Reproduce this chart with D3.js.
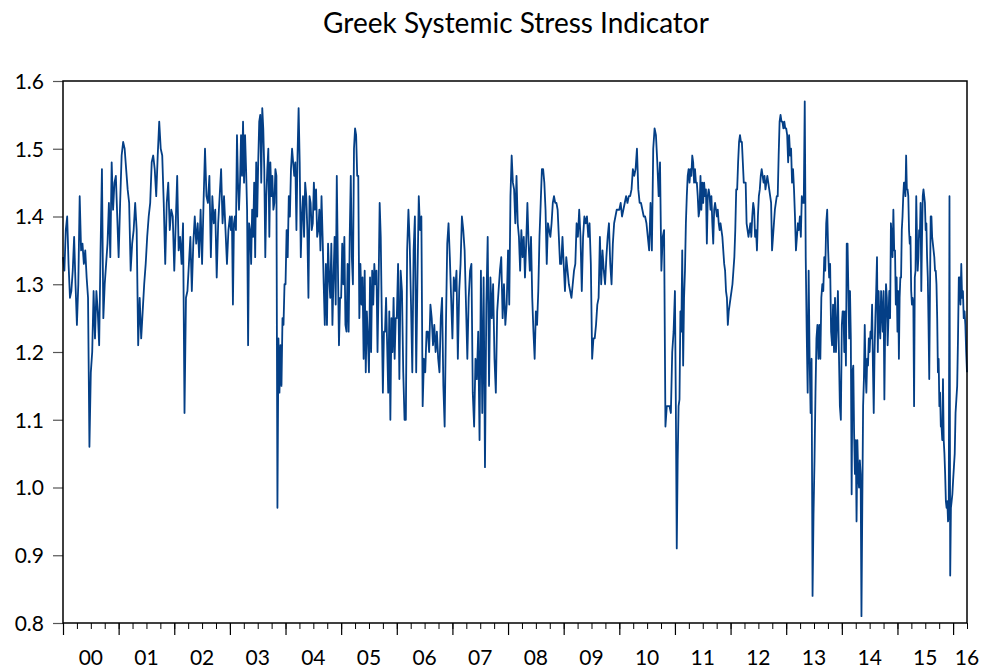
<!DOCTYPE html>
<html>
<head>
<meta charset="utf-8">
<script src="https://cdn.jsdelivr.net/npm/d3@7"></script>
<style>
  body { margin: 0; background: #fff; }
  svg { display: block; font-family: Lato, "Open Sans", sans-serif; }
</style>
</head>
<body>
<script>
// values, evenly spaced within each year
const y2000 = [1.34,1.32,1.38,1.40,1.33,1.28,1.29,1.32,1.37,1.30,1.24,1.30,1.43,1.35,1.36,1.33,1.35,1.31,1.28,1.06,1.17,1.20,1.29,1.22,1.29,1.26,1.21,1.35,1.47,1.25,1.30,1.33,1.36,1.42,1.34,1.48,1.41,1.45,1.46,1.40]
const y2001 = [1.34,1.42,1.49,1.51,1.50,1.47,1.44,1.42,1.32,1.36,1.38,1.42,1.38,1.21,1.28,1.22,1.26,1.30,1.33,1.37,1.40,1.42,1.48,1.49,1.47,1.43,1.49,1.54,1.50,1.49,1.42,1.33,1.42,1.45,1.38,1.41,1.40]
const y2002 = [1.32,1.39,1.46,1.35,1.37,1.33,1.39,1.11,1.28,1.29,1.33,1.37,1.29,1.36,1.40,1.36,1.39,1.34,1.41,1.33,1.42,1.50,1.43,1.42,1.46,1.34,1.43,1.39,1.41,1.31,1.39,1.43,1.47,1.39,1.43,1.38,1.33,1.38]
const y2003 = [1.40,1.38,1.40,1.27,1.39,1.40,1.38,1.52,1.45,1.41,1.45,1.52,1.46,1.54,1.45,1.52,1.47,1.41,1.21,1.39,1.38,1.33,1.41,1.37,1.45,1.34,1.48,1.40,1.48,1.54,1.55,1.45,1.56,1.53,1.47,1.34,1.43,1.47,1.50,1.37,1.48,1.43,1.46,1.41,1.42,1.47,1.46,0.97,1.22,1.14,1.21,1.15,1.25,1.24,1.30]
const y2004 = [1.30,1.38,1.34,1.43,1.40,1.47,1.50,1.48,1.46,1.48,1.38,1.49,1.56,1.48,1.34,1.40,1.43,1.37,1.45,1.43,1.38,1.28,1.43,1.42,1.38,1.39,1.45,1.41,1.44,1.37,1.38,1.41,1.35,1.43,1.37,1.30,1.24,1.33,1.24,1.36,1.31,1.28,1.36,1.24,1.31,1.37,1.27,1.46,1.33,1.21,1.28]
const y2005 = [1.28,1.36,1.30,1.37,1.24,1.23,1.33,1.23,1.37,1.46,1.34,1.30,1.50,1.53,1.52,1.46,1.46,1.25,1.33,1.27,1.31,1.19,1.32,1.17,1.26,1.22,1.17,1.31,1.20,1.32,1.27,1.33,1.30,1.32,1.20,1.30,1.42,1.37,1.25,1.14,1.23,1.23,1.28,1.21,1.14,1.26,1.10,1.25,1.20,1.28,1.19,1.25]
const y2006 = [1.25,1.33,1.16,1.32,1.29,1.17,1.10,1.10,1.35,1.41,1.36,1.27,1.17,1.35,1.40,1.17,1.31,1.43,1.38,1.40,1.12,1.19,1.17,1.23,1.23,1.20,1.27,1.25,1.21,1.24,1.20,1.23,1.19,1.17,1.25,1.28,1.15,1.09,1.24,1.36,1.39,1.34,1.28]
const y2007 = [1.22,1.31,1.29,1.32,1.19,1.29,1.33,1.40,1.38,1.35,1.27,1.19,1.28,1.32,1.33,1.14,1.09,1.19,1.16,1.23,1.07,1.32,1.11,1.31,1.03,1.27,1.37,1.15,1.31,1.25,1.30,1.19,1.14,1.26,1.29,1.32,1.34,1.25,1.30,1.24,1.27]
const y2008 = [1.35,1.27,1.43,1.49,1.45,1.44,1.39,1.46,1.39,1.37,1.32,1.38,1.34,1.37,1.31,1.36,1.42,1.36,1.32,1.37,1.28,1.23,1.19,1.26,1.24,1.29,1.37,1.42,1.47,1.47,1.45,1.41,1.33,1.39,1.38,1.37,1.39,1.42,1.43,1.42,1.42,1.41,1.37,1.33,1.33,1.37]
const y2009 = [1.33,1.29,1.34,1.32,1.30,1.29,1.28,1.30,1.32,1.33,1.39,1.37,1.41,1.37,1.29,1.37,1.40,1.39,1.40,1.37,1.39,1.33,1.19,1.22,1.22,1.24,1.27,1.28,1.37,1.30,1.35,1.32,1.30,1.34,1.37,1.39,1.33,1.30,1.36,1.39,1.40,1.41,1.41]
const y2010 = [1.41,1.42,1.40,1.41,1.42,1.43,1.42,1.43,1.43,1.44,1.47,1.46,1.47,1.50,1.44,1.42,1.42,1.41,1.40,1.40,1.39,1.37,1.35,1.42,1.35,1.50,1.53,1.52,1.48,1.43,1.48,1.32,1.37,1.38,1.09,1.12,1.12,1.12,1.11,1.20,1.23]
const y2011 = [1.29,1.12,0.91,1.04,1.12,1.13,1.26,1.23,1.35,1.18,1.28,1.32,1.39,1.43,1.46,1.47,1.45,1.47,1.46,1.49,1.48,1.45,1.47,1.45,1.45,1.43,1.40,1.41,1.46,1.41,1.45,1.42,1.45,1.43,1.44,1.36,1.43,1.44,1.43,1.41,1.43,1.39,1.36,1.41,1.42,1.41,1.40,1.41,1.39,1.38,1.39,1.38,1.37,1.35,1.33,1.32,1.29,1.28,1.24,1.26,1.27]
const y2012 = [1.28,1.29,1.30,1.32,1.34,1.38,1.44,1.44,1.48,1.51,1.52,1.51,1.51,1.48,1.45,1.45,1.45,1.39,1.38,1.37,1.38,1.39,1.37,1.40,1.42,1.41,1.37,1.38,1.35,1.40,1.43,1.44,1.46,1.47,1.46,1.45,1.46,1.44,1.45,1.46,1.45,1.44,1.43,1.42,1.35,1.37,1.39,1.41,1.42,1.43,1.43,1.49,1.54,1.55,1.54,1.54,1.53,1.54,1.53]
const y2013 = [1.53,1.52,1.48,1.52,1.49,1.50,1.45,1.47,1.44,1.40,1.35,1.37,1.39,1.38,1.40,1.37,1.43,1.42,1.42,1.57,1.34,1.23,1.14,1.32,1.19,1.11,1.19,0.84,0.96,1.04,1.14,1.22,1.24,1.19,1.24,1.19,1.28,1.30,1.29,1.34,1.32,1.39,1.41,1.35,1.31,1.33,1.23,1.21,1.27,1.20,1.28,1.20,1.24,1.29,1.20,1.12,1.10]
const y2014 = [1.24,1.26,1.26,1.20,1.26,1.18,1.36,1.36,1.29,1.22,1.29,1.22,0.99,1.17,1.18,1.08,1.02,1.07,0.95,1.07,1.02,1.00,1.04,1.02,0.81,0.97,1.12,1.16,1.24,1.17,1.14,1.19,1.18,1.22,1.20,1.23,1.22,1.27,1.18,1.11,1.20,1.25,1.29,1.34,1.20,1.29,1.24,1.22,1.29,1.26,1.23,1.29,1.13,1.24,1.30,1.28,1.21,1.25,1.29,1.25,1.39,1.37,1.34,1.41,1.35,1.35,1.27,1.31]
const y2015 = [1.23,1.29,1.19,1.28,1.31,1.31,1.38,1.40,1.43,1.45,1.45,1.43,1.49,1.44,1.44,1.43,1.38,1.36,1.37,1.29,1.27,1.28,1.27,1.12,1.31,1.32,1.43,1.37,1.32,1.34,1.38,1.37,1.42,1.29,1.37,1.43,1.44,1.43,1.42,1.38,1.39,1.34,1.31,1.24,1.16,1.29,1.40,1.40,1.37,1.36,1.35,1.34,1.32,1.32,1.30,1.25,1.17,1.19,1.12,1.14,1.09,1.09,1.07,1.16,1.07,1.05,1.02,0.98,0.97,0.98,0.95,0.96,1.43,0.87,0.97,0.98,0.99]
const y2016 = [1.01,1.03,1.05,1.11,1.13,1.15,1.22,1.31,1.31,1.27,1.33,1.28,1.29,1.25,1.26,1.24,1.20,1.17]

const years = [2000,2001,2002,2003,2004,2005,2006,2007,2008,2009,2010,2011,2012,2013,2014,2015,2016]
const yearValues = [y2000,y2001,y2002,y2003,y2004,y2005,y2006,y2007,y2008,y2009,y2010,y2011,y2012,y2013,y2014,y2015,y2016]
const yTicks = [0.8,0.9,1.0,1.1,1.2,1.3,1.4,1.5,1.6]
const endDate = 2016.25

const series = []
years.forEach((yr, k) => {
    const vals = yearValues[k]
    const last = k === years.length - 1
    vals.forEach((v, i) => {
        const t = last ? yr + i / (vals.length - 1) * (endDate - yr) : yr + i / vals.length
        series.push({ t: t, v: v })
    })
})

const width = 986, height = 671
const plotLeft = 63, plotRight = 967, plotTop = 81, plotBottom = 623

const svg = d3.select("body").append("svg")
    .attr("width", width)
    .attr("height", height)

const x = d3.scaleLinear().domain([2000, endDate]).range([plotLeft, plotRight])
const y = d3.scaleLinear().domain([0.8, 1.6]).range([plotBottom, plotTop])

svg.append("text")
    .attr("x", 516)
    .attr("y", 33)
    .attr("text-anchor", "middle")
    .attr("font-size", 28)
    .attr("fill", "#000")
    .text("Greek Systemic Stress Indicator")

// y axis
const yAxis = svg.append("g")
    .attr("transform", `translate(${plotLeft},0)`)
    .call(d3.axisLeft(y).tickValues(yTicks).tickSize(10).tickPadding(9).tickFormat(d3.format(".1f")))
yAxis.select(".domain").remove()
yAxis.selectAll(".tick line").attr("stroke", "#555").attr("stroke-width", 1.2)
yAxis.selectAll(".tick text").attr("font-size", 21).attr("font-family", "Lato").attr("fill", "#000").attr("dy", "0.35em")

// x axis: quarter ticks and year ticks
const quarters = d3.range(2000, endDate + 0.001, 0.25)
const xMinor = svg.append("g")
    .attr("transform", `translate(0,${plotBottom})`)
    .call(d3.axisBottom(x).tickValues(quarters).tickSize(6).tickFormat(""))
xMinor.select(".domain").remove()
xMinor.selectAll(".tick line").attr("stroke", "#000").attr("stroke-width", 1)

const xMajor = svg.append("g")
    .attr("transform", `translate(0,${plotBottom})`)
    .call(d3.axisBottom(x).tickValues(years).tickSize(12).tickFormat(""))
xMajor.select(".domain").remove()
xMajor.selectAll(".tick line").attr("stroke", "#000").attr("stroke-width", 1.2)

svg.append("g")
    .selectAll("text")
    .data(years)
    .enter()
    .append("text")
    .attr("x", d => d === 2016 ? x(endDate) : x(d + 0.5))
    .attr("y", 665)
    .attr("text-anchor", "middle")
    .attr("font-size", 21)
    .attr("fill", "#000")
    .text(d => String(d).slice(2))

// the series
const line = d3.line()
    .x(d => x(d.t))
    .y(d => y(d.v))

svg.append("path")
    .datum(series)
    .attr("fill", "none")
    .attr("stroke", "#043f86")
    .attr("stroke-width", 1.8)
    .attr("stroke-linejoin", "round")
    .attr("d", line)

// frame
svg.append("rect")
    .attr("x", plotLeft)
    .attr("y", plotTop)
    .attr("width", plotRight - plotLeft)
    .attr("height", plotBottom - plotTop)
    .attr("fill", "none")
    .attr("stroke", "#000")
    .attr("stroke-width", 1.5)
</script>
</body>
</html>
